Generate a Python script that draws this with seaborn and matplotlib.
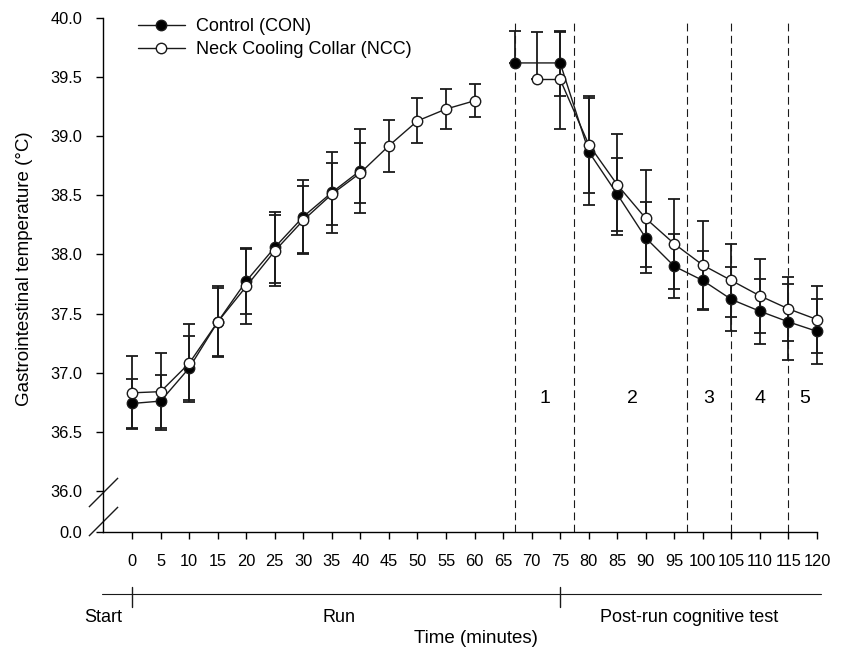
import numpy as np
import pandas as pd
import matplotlib
matplotlib.use("Agg")
import matplotlib.pyplot as plt
import matplotlib.transforms as mtransforms
import seaborn as sns

# ---- data ----
run_time = [0, 5, 10, 15, 20, 25, 30, 35, 40, 45, 50, 55, 60]
con_run = [36.74, 36.76, 37.04, 37.43, 37.775, 38.06, 38.32, 38.525, 38.71,
           np.nan, np.nan, np.nan, np.nan]
con_run_sd = [0.21, 0.225, 0.27, 0.30, 0.28, 0.30, 0.31, 0.34, 0.355,
              np.nan, np.nan, np.nan, np.nan]
ncc_run = [36.83, 36.84, 37.08, 37.43, 37.73, 38.03, 38.29, 38.51, 38.69,
           38.92, 39.13, 39.23, 39.30]
ncc_run_sd = [0.31, 0.325, 0.33, 0.29, 0.32, 0.30, 0.285, 0.26, 0.257,
              0.22, 0.19, 0.17, 0.14]

con_post_time = [67, 75, 80, 85, 90, 95, 100, 105, 110, 115, 120]
con_post = [39.62, 39.62, 38.87, 38.51, 38.14, 37.90, 37.78, 37.62, 37.52, 37.43, 37.35]
con_post_sd_hi = [0.27, 0.27, 0.45, 0.31, 0.30, 0.27, 0.25, 0.27, 0.275, 0.32, 0.275]
con_post_sd_lo = [0.0, 0.28, 0.45, 0.31, 0.30, 0.27, 0.25, 0.27, 0.275, 0.32, 0.275]

ncc_post_time = [71, 75, 80, 85, 90, 95, 100, 105, 110, 115, 120]
ncc_post = [39.48, 39.48, 38.93, 38.59, 38.305, 38.09, 37.91, 37.78, 37.65, 37.54, 37.45]
ncc_post_sd_hi = [0.40, 0.40, 0.41, 0.425, 0.41, 0.38, 0.37, 0.31, 0.31, 0.27, 0.28]
ncc_post_sd_lo = [0.0, 0.42, 0.41, 0.425, 0.41, 0.38, 0.37, 0.31, 0.31, 0.27, 0.28]

period_lines = [67, 77.5, 97.2, 105, 115]
period_labels = ["1", "2", "3", "4", "5"]
period_label_x = [72.3, 87.6, 101.1, 110, 117.9]

phase_ticks = [0, 75]
phase_labels = ["Start", "Run", "Post-run cognitive test"]
phase_label_x = [-5.0, 36.3, 97.6]

y_ticks = [36.0, 36.5, 37.0, 37.5, 38.0, 38.5, 39.0, 39.5, 40.0]
y_zero_pos = 35.653   # where the "0.0" tick sits below the axis break
x_ticks = list(range(0, 121, 5))

# ---- style ----
sns.set_theme(style="ticks", rc={
    "axes.edgecolor": "black", "text.color": "black", "axes.labelcolor": "black",
    "xtick.color": "black", "ytick.color": "black", "axes.linewidth": 1.0,
})
plt.rcParams["font.family"] = ["Liberation Sans", "DejaVu Sans"]

fig = plt.figure(figsize=(8.56, 6.49), dpi=100)
ax = fig.add_axes([103 / 856, 1 - 532 / 649, 714 / 856, 514 / 649])


def series(times, means, lo, hi, face, label, z):
    d = pd.DataFrame({"time": times, "temp": means, "lo": lo, "hi": hi}).dropna()
    eb = ax.errorbar(d["time"], d["temp"], yerr=[d["lo"], d["hi"]], fmt="none",
                     ecolor="k", elinewidth=1.3, capsize=4.5, capthick=1.3, zorder=2)
    for art in eb.get_children():
        art.set_clip_on(False)
    sns.lineplot(data=d, x="time", y="temp", ax=ax, estimator=None, sort=False,
                 color="k", lw=1.0, marker="o", markersize=7.5,
                 markerfacecolor=face, markeredgecolor="k", markeredgewidth=1.0,
                 label=label, zorder=z, legend=False, clip_on=False)


series(run_time, con_run, con_run_sd, con_run_sd, "black", "Control (CON)", 3)
series(con_post_time, con_post, con_post_sd_lo, con_post_sd_hi, "black", None, 3)
series(run_time, ncc_run, ncc_run_sd, ncc_run_sd, "white", "Neck Cooling Collar (NCC)", 4)
series(ncc_post_time, ncc_post, ncc_post_sd_lo, ncc_post_sd_hi, "white", None, 4)

# period separators and numbers
for xv in period_lines:
    ax.axvline(xv, ymin=0, ymax=0.99, color="k", lw=0.8, ls=(0, (7, 4)), zorder=1)
for lab, xv in zip(period_labels, period_label_x):
    ax.text(xv, 36.785, lab, ha="center", va="center", fontsize=14)

# axes
ax.set_xlim(-5.1, 120)
ax.set_ylim(y_zero_pos, 40.0)
ax.set_xticks(x_ticks)
ax.set_xticklabels([str(v) for v in x_ticks])
ax.set_yticks([y_zero_pos] + y_ticks)
ax.set_yticklabels(["0.0"] + [f"{v:.1f}" for v in y_ticks])
ax.tick_params(axis="both", direction="out", length=5, width=1.0, labelsize=11.8)
ax.tick_params(axis="y", pad=10)
ax.tick_params(axis="x", pad=11)
sns.despine(ax=ax)

# axis break marks
ax.plot([0, 0], [0.0777, 0.0214], transform=ax.transAxes, marker=[(-1, -1), (1, 1)],
        markersize=21, linestyle="none", color="k", mec="k", mew=1.0, clip_on=False)

ax.set_ylabel("Gastrointestinal temperature (\u00b0C)", fontsize=13.5)
ax.yaxis.set_label_coords(-0.098, 0.513)
ax.set_xlabel("Time (minutes)", fontsize=13.5)
ax.xaxis.set_label_coords(0.522, -0.19)

# phase bar under the x axis
blend = mtransforms.blended_transform_factory(ax.transData, ax.transAxes)
ax.plot([-5.3, 120.75], [-0.1204, -0.1204], transform=blend, clip_on=False,
        color="k", lw=0.8)
for xv in phase_ticks:
    ax.plot([xv, xv], [-0.1068, -0.1456], transform=blend, clip_on=False,
            color="k", lw=1.0)
for lab, xv in zip(phase_labels, phase_label_x):
    ax.text(xv, -0.167, lab, transform=blend, ha="center", va="center", fontsize=13)

ax.legend(loc="upper left", bbox_to_anchor=(0.049, 1.0), frameon=False,
          fontsize=13, handlelength=2.6, handletextpad=0.6, labelspacing=0.35,
          borderpad=0, borderaxespad=0)

fig.savefig("out.png", dpi=100)
